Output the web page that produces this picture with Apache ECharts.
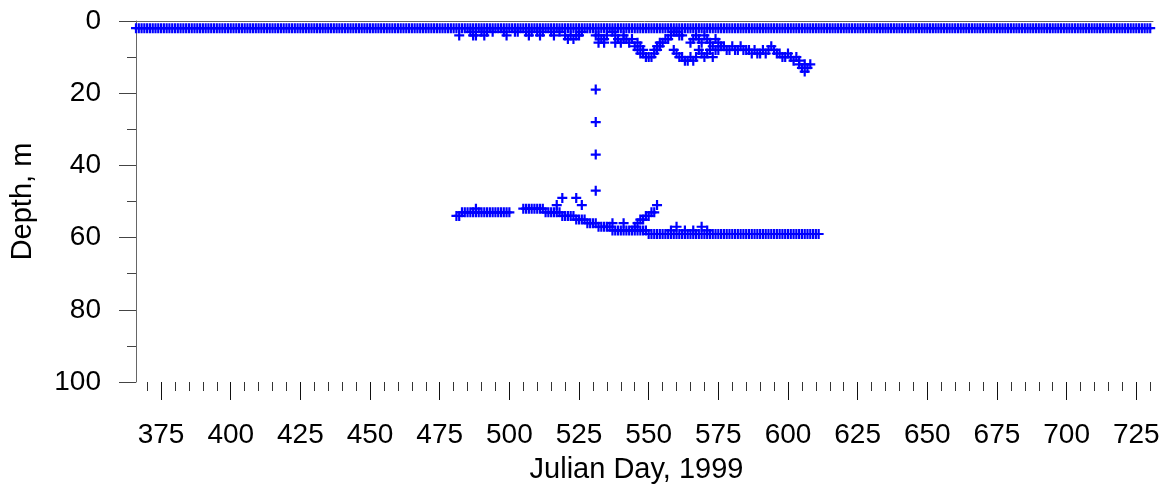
<!DOCTYPE html>
<html><head><meta charset="utf-8">
<script src="https://cdn.jsdelivr.net/npm/echarts@6/dist/echarts.min.js"></script>
<style>html,body{margin:0;padding:0;background:#fff}#c{width:1167px;height:489px}</style>
</head><body><div id="c"></div>
<script>
// ---- tick labels ----
const xMajorTicks = [375,400,425,450,475,500,525,550,575,600,625,650,675,700,725];
const xMinorTicks = [370,375,380,385,390,395,400,405,410,415,420,425,430,435,440,445,450,455,460,465,470,475,480,485,490,495,500,505,510,515,520,525,530,535,540,545,550,555,560,565,570,575,580,585,590,595,600,605,610,615,620,625,630,635,640,645,650,655,660,665,670,675,680,685,690,695,700,705,710,715,720,725,730];
const yTicks = [0,20,40,60,80,100];

// ---- data ----
// near-surface record: one reading per day, first to last day, at ~2 m
const surfaceFirstDay = 366, surfaceLastDay = 730, surfaceDepth = 2;

// secondary shallow returns and the upper scattering layer [day, depth]
const upperLayer = [
 [482,4],[486,3],[487,4],[488,4],[490,3],[491,4],[492,3],[494,3],[498,3],[499,4],
 [502,3],[503,3],[506,3],[507,4],[508,3],[510,3],[511,4],[512,3],[515,3],[516,4],
 [518,3],[520,4],[521,5],[522,4],[523,5],[524,4],[525,4],[526,3],
 [531,4],[532,6],[533,5],[534,6],[535,4],[532,4],[534,5],
 [537,3],[538,4],[539,5],[540,6],[541,4],[541,5],[538,6],
 [542,5],[543,6],[544,5],[545,7],[546,6],[547,7],[548,8],
 [546,8],[547,9],[548,9],[549,10],[550,10],[551,10],[552,9],[553,8],[554,7],
 [552,8],[553,7],[554,6],[555,6],[556,5],[557,5],[558,4],
 [559,3],[560,3],[561,4],[562,4],
 [559,8],[560,9],[561,10],[562,10],[563,11],[564,11],[565,10],[566,11],[567,10],
 [565,6],[566,5],[567,4],[568,5],[569,6],[570,4],[571,5],[572,6],[573,7],[574,5],[575,6],[576,7],
 [568,8],[569,9],[570,10],[571,9],[572,8],[573,10],[574,8],[575,8],
 [577,7],[578,8],[579,8],[580,7],[581,8],[582,8],[583,7],[584,8],[585,8],[586,8],
 [587,9],[588,8],[589,9],[590,9],[591,8],[592,9],[593,8],[594,7],[595,8],[596,9],[597,9],
 [598,10],[599,10],[600,9],[601,10],[602,11],[603,10],[604,11],
 [604,12],[605,13],[606,14],[607,13],[608,12],[606,12]
];

// isolated readings through the water column on one day
const columnPoints = [[531,19],[531,28],[531,37],[531,47]];

// deep layer, first segment: one value per day from deepAFirstDay
const deepAFirstDay = 481;
const deepADepths = [54,54,53,53,53,53,53,53,53,53,53,53,53,53,53,53,53,53,53,53];

// deep layer, second segment: one value per day from deepBFirstDay
const deepBFirstDay = 505;
const deepBDepths = [
 52,52,52,52,52,52,52,52,
 53,53,53,53,53,53,
 54,54,54,54,54,
 55,55,55,55,56,56,
 56,56,57,57,57,57,57,
 58,58,58,58,58,58,58,58,58,58,58,58,58,
 59,59,59,59,59,59,59,59,59,59,59,59,59,59,59,59,59,59,59,59,59,59,59,59,59,59,59,59,59,59,59,
 59,59,59,59,59,59,59,59,59,59,59,59,59,59,59,59,59,59,59,59,59,59,59,59,59,59,59,59,59,59,59
];

// additional deep readings [day, depth]
const deepExtra = [
 [488,52],[517,51],[519,49],[524,49],[526,51],[537,56],[541,56],[545,57],[546,56],[547,55],
 [548,55],[549,54],[550,54],[551,53],[552,53],[553,51],[558,58],[560,57],[563,58],[566,58],
 [569,57],[571,58]
];

// ---- build ----
const pts = [];
for (let d = surfaceFirstDay; d <= surfaceLastDay; d++) pts.push([d, surfaceDepth]);
upperLayer.forEach(p => pts.push(p));
columnPoints.forEach(p => pts.push(p));
deepADepths.forEach((v,i) => pts.push([deepAFirstDay + i, v]));
deepBDepths.forEach((v,i) => pts.push([deepBFirstDay + i, v]));
deepExtra.forEach(p => pts.push(p));

const FONT = 'Liberation Sans, Arial, Helvetica, sans-serif';
const PLUS = 'path://M3.9,0H6.1V3.9H10V6.1H6.1V10H3.9V6.1H0V3.9H3.9Z';
const axisCol = '#666';

function tickAxis(values, len, col) {
  return {
    type: 'value', min: 366, max: 731, position: 'bottom',
    axisLine: {show: false},
    axisTick: {show: true, customValues: values, length: len, lineStyle: {color: col}},
    axisLabel: {show: false},
    splitLine: {show: false}
  };
}

const chart = echarts.init(document.getElementById('c'), null, {renderer:'canvas'});
chart.setOption({
  animation: false,
  backgroundColor: '#fff',
  grid: {left: 134, right: 14, top: 21, bottom: 106, containLabel: false},
  xAxis: [{
    type: 'value', min: 366, max: 731, position: 'bottom',
    axisLine: {show: true, lineStyle: {color: axisCol, width: 1}},
    axisTick: {show: false},
    axisLabel: {show: true, customValues: xMajorTicks, fontSize: 28, fontFamily: FONT, color: '#000', margin: 39},
    splitLine: {show: false},
    name: 'Julian Day, 1999', nameLocation: 'middle', nameGap: 73,
    nameTextStyle: {fontSize: 29, fontFamily: FONT, color: '#000', padding: [0, 16, 0, 0]}
  },
  tickAxis(xMinorTicks, 9, '#333'),
  tickAxis(xMajorTicks, 18, '#111')
  ],
  yAxis: {
    type: 'value', inverse: true, min: 0, max: 100, interval: 20,
    axisLine: {show: true, lineStyle: {color: axisCol, width: 1}},
    axisTick: {show: true, length: 17, lineStyle: {color: '#444'}},
    minorTick: {show: true, splitNumber: 2, length: 9, lineStyle: {color: '#444'}},
    axisLabel: {show: true, fontSize: 28, fontFamily: FONT, color: '#000', margin: 35},
    splitLine: {show: false}, minorSplitLine: {show: false},
    name: 'Depth, m', nameLocation: 'middle', nameGap: 99, nameRotate: 90,
    nameTextStyle: {fontSize: 29, fontFamily: FONT, color: '#000'}
  },
  series: [{
    type: 'scatter', xAxisIndex: 0, yAxisIndex: 0,
    symbol: PLUS, symbolSize: 10,
    itemStyle: {color: '#0000ff', opacity: 1},
    silent: true,
    data: pts
  }]
});
</script>
</body></html>
